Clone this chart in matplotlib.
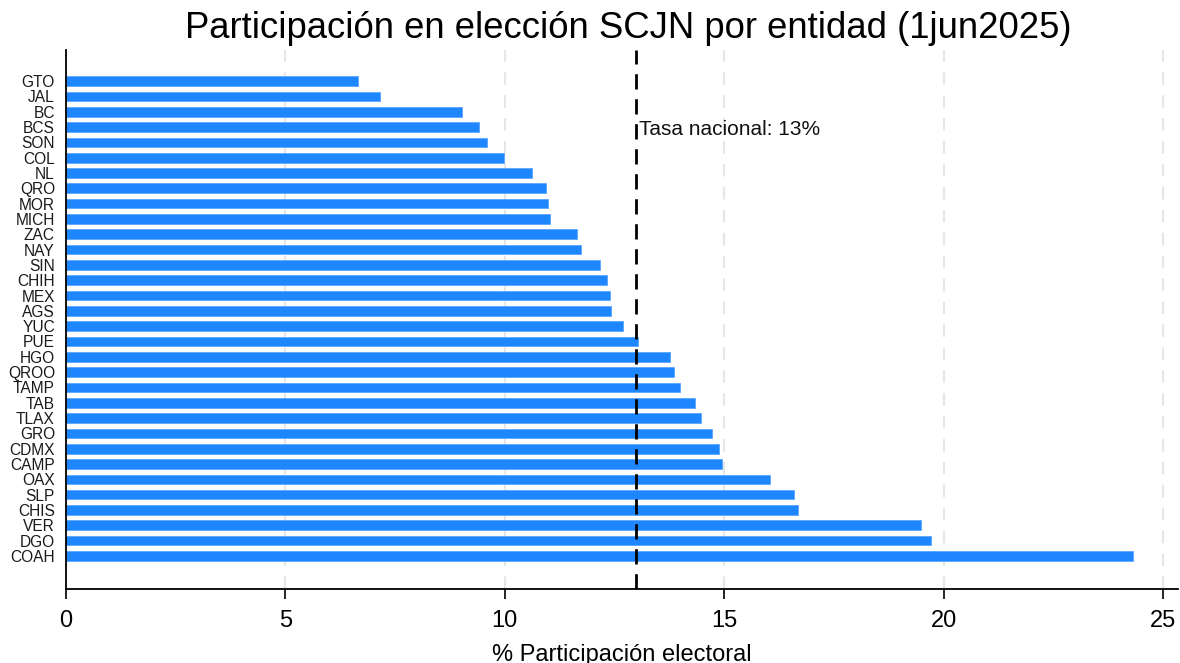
import matplotlib
matplotlib.use("Agg")
import matplotlib.pyplot as plt

plt.rcParams['font.family'] = ['Liberation Sans', 'DejaVu Sans']

estados = ["GTO", "JAL", "BC", "BCS", "SON", "COL", "NL", "QRO", "MOR", "MICH",
           "ZAC", "NAY", "SIN", "CHIH", "MEX", "AGS", "YUC", "PUE", "HGO", "QROO",
           "TAMP", "TAB", "TLAX", "GRO", "CDMX", "CAMP", "OAX", "SLP", "CHIS", "VER",
           "DGO", "COAH"]
participacion = [6.65, 7.16, 9.02, 9.40, 9.60, 9.97, 10.62, 10.93, 10.98, 11.03,
                 11.65, 11.73, 12.17, 12.32, 12.40, 12.41, 12.69, 13.04, 13.76, 13.85,
                 14.00, 14.34, 14.48, 14.73, 14.87, 14.95, 16.04, 16.58, 16.69, 19.48,
                 19.71, 24.32]
tasa_nacional = 13
xticks = [0, 5, 10, 15, 20, 25]

fig = plt.figure(figsize=(11.8, 6.63), dpi=100)
ax = fig.add_axes([66/1180, 1-589/663, (1178-66)/1180, (589-50)/663])

pos = list(range(len(estados)))
ax.barh(pos, participacion, height=0.63, color='#1e87ff', edgecolor='#5aa6ff',
        linewidth=0.6, zorder=2)

n = len(estados)
ax.set_ylim(n - 1 + 2.16, -2.03)
ax.set_xlim(0, 25.34)

ax.set_yticks(pos)
ax.set_yticklabels(estados, fontsize=11.2, color='#1a1a1a')
ax.tick_params(axis='y', length=0, pad=8)

ax.set_xticks(xticks)
ax.set_xticklabels([str(t) for t in xticks], fontsize=17)
ax.tick_params(axis='x', length=7, width=1.2, pad=8, direction='out')

for t in xticks[1:]:
    ax.axvline(t, color='#e6e6e6', lw=1.5, ls=(0, (6, 5)), zorder=1)

ax.axvline(tasa_nacional, color='black', lw=2, ls=(0, (5.5, 3.5)), zorder=3)
ax.text(tasa_nacional + 0.05, 3.15, f"Tasa nacional: {tasa_nacional}%", fontsize=15,
        va='center', ha='left', color='#111111')

ax.spines['top'].set_visible(False)
ax.spines['right'].set_visible(False)
ax.spines['left'].set_linewidth(1.3)
ax.spines['bottom'].set_linewidth(1.3)

ax.set_xlabel("% Participación electoral", fontsize=17, labelpad=9)
fig.text(628/1180, 1-28/663, "Participación en elección SCJN por entidad (1jun2025)",
         fontsize=26.3, ha='center', va='center')

fig.savefig("out.png", dpi=100)
